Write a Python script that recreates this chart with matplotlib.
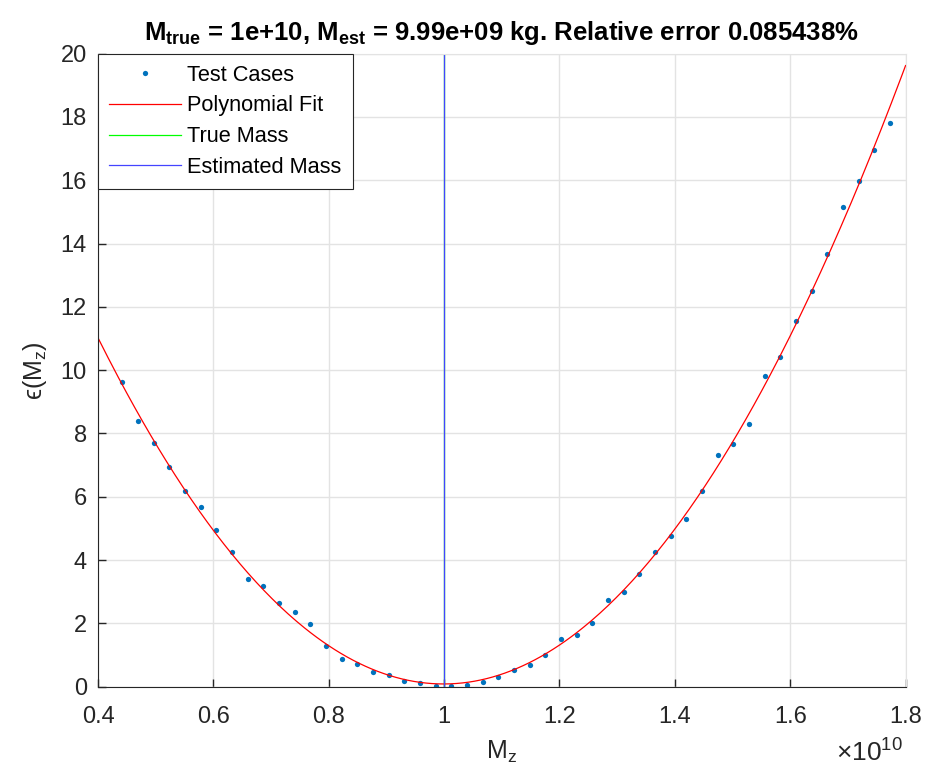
import matplotlib
matplotlib.use("Agg")
import numpy as np
import matplotlib.pyplot as plt

plt.rcParams["font.family"] = ["Liberation Sans", "DejaVu Sans"]
plt.rcParams["mathtext.fontset"] = "custom"
plt.rcParams["mathtext.rm"] = "Liberation Sans"
plt.rcParams["mathtext.it"] = "Liberation Sans"
plt.rcParams["mathtext.bf"] = "Liberation Sans:bold"

# mass of test cases (x 1e10 kg)
mass = [0.4421, 0.4693, 0.4964, 0.5236, 0.5507, 0.5779, 0.6051, 0.6322, 0.6594, 0.6865,
        0.7137, 0.7409, 0.7680, 0.7952, 0.8223, 0.8495, 0.8767, 0.9038, 0.9310, 0.9581,
        0.9853, 1.0125, 1.0396, 1.0668, 1.0939, 1.1211, 1.1483, 1.1754, 1.2026, 1.2297,
        1.2569, 1.2841, 1.3112, 1.3384, 1.3655, 1.3927, 1.4199, 1.4470, 1.4742, 1.5013,
        1.5285, 1.5557, 1.5828, 1.6100, 1.6371, 1.6643, 1.6915, 1.7186, 1.7458, 1.7729]
# error metric per test case
err = [9.62, 8.39, 7.71, 6.94, 6.17, 5.67, 4.94, 4.25, 3.40, 3.17,
       2.64, 2.36, 1.98, 1.30, 0.885, 0.73, 0.47, 0.37, 0.19, 0.13,
       0.03, 0.02, 0.05, 0.16, 0.32, 0.53, 0.68, 1.00, 1.50, 1.64,
       2.02, 2.73, 3.00, 3.55, 4.27, 4.75, 5.29, 6.19, 7.31, 7.68,
       8.29, 9.82, 10.43, 11.55, 12.49, 13.66, 15.15, 15.99, 16.95, 17.81]

m_true = 1.0
m_est = 0.99914562

coef = np.polyfit(mass, err, 2)
xf = np.linspace(0.4, 1.8, 400)
yf = np.polyval(coef, xf)

fig = plt.figure(figsize=(9.25, 7.76), dpi=100)
ax = fig.add_axes([0.106, 0.1151, 0.873, 0.8157])

ax.plot(mass, err, "o", color="#0072BD", ms=3.8, mew=0, label="Test Cases")
ax.plot(xf, yf, color="red", lw=0.9, label="Polynomial Fit")
ax.axvline(m_true, color="#00ff00", lw=0.9, label="True Mass")
ax.axvline(m_est, color="#4444ff", lw=0.9, label="Estimated Mass")

ax.set_xlim(0.4, 1.8)
ax.set_ylim(0, 20)
ax.set_xticks([0.4, 0.6, 0.8, 1.0, 1.2, 1.4, 1.6, 1.8])
ax.set_xticklabels(["0.4", "0.6", "0.8", "1", "1.2", "1.4", "1.6", "1.8"])
ax.set_yticks(range(0, 21, 2))
ax.grid(True, color="#e3e3e3", lw=1)
ax.set_axisbelow(True)
ax.tick_params(direction="in", length=6, width=1, labelsize=17, colors="#262626")
ax.tick_params(axis="x", pad=14)
ax.tick_params(axis="y", pad=8)
for s in ["left", "bottom"]:
    ax.spines[s].set_color("#262626")
for s in ["top", "right"]:
    ax.spines[s].set_color("#e3e3e3")

ax.set_xlabel("M$_z$", fontsize=18, color="#262626", labelpad=8)
ax.set_ylabel("ϵ(M$_z$)", fontsize=18, color="#262626", labelpad=8)
ax.text(0.997, -0.083, r"$\times$10$^{10}$", transform=ax.transAxes, ha="right", va="top",
        fontsize=19, color="#262626")

ax.set_title(r"$\mathbf{M_{true}}$ = 1e+10, $\mathbf{M_{est}}$ = 9.99e+09 kg. Relative error 0.085438%",
             fontsize=18.5, fontweight="bold", pad=10)

leg = ax.legend(loc="upper left", borderaxespad=0, fancybox=False, fontsize=15.7,
                handlelength=3.3, handletextpad=0.3, labelspacing=0.45, borderpad=0.5)
leg.get_frame().set_edgecolor("#262626")
leg.get_frame().set_linewidth(0.8)
leg.get_frame().set_alpha(1)

fig.savefig("out.png", dpi=100)
